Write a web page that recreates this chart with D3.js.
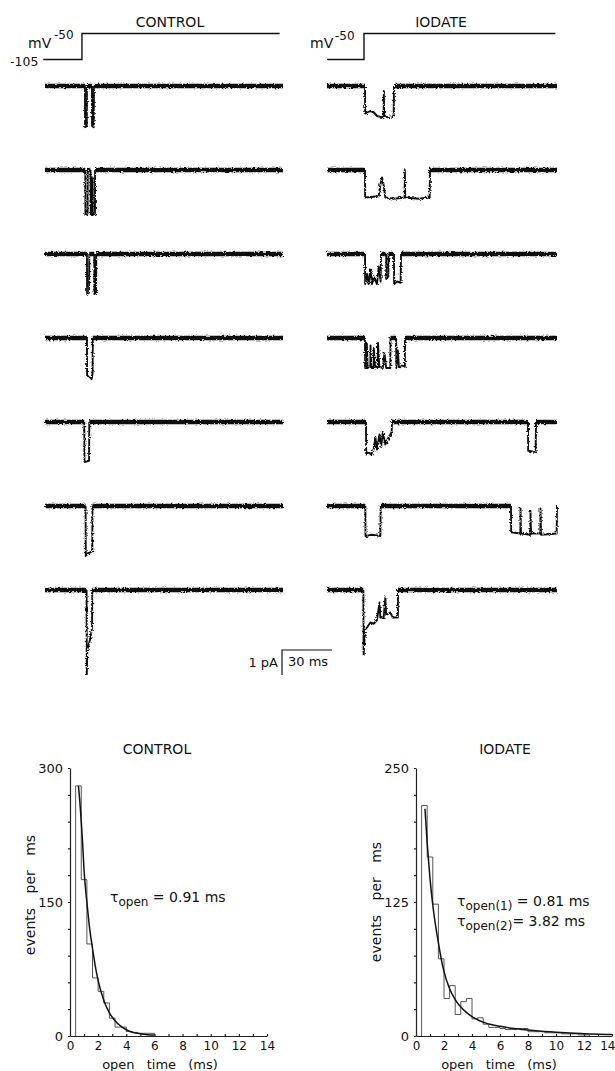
<!DOCTYPE html>
<html><head><meta charset="utf-8">
<script src="https://cdn.jsdelivr.net/npm/d3@7"></script>
<style>
body{margin:0;background:#fff}
svg{display:block}
text{font-family:"DejaVu Sans",sans-serif;fill:#111}
</style>
</head><body>
<svg id="fig" width="615" height="1071"></svg>
<script>
// ---------------- DATA ----------------
const panelTitles = ["CONTROL", "IODATE"];
// voltage protocol (ms, mV)
const protocolControl = [[-1, -105], [22.2, -105], [22.2, -50], [141, -50]];
const protocolIodate  = [[0, -105], [22.2, -105], [22.2, -50], [137, -50]];
const controlDuration = 143;   // ms shown per sweep
const iodateDuration = 138;

// single-channel sweeps: each sweep = list of openings, each opening = [ms, pA] points
const controlSweeps = [
  [[[24.0,0],[24.1,-1.65],[25.1,-1.6],[25.2,0]], [[28.2,0],[28.3,-1.6],[29.3,-1.65],[29.4,0]]],
  [[[24.2,0],[24.3,-1.8],[25.6,-1.75],[25.7,0]], [[27.4,0],[27.5,-1.8],[28.2,-1.8],[28.3,-0.3],[28.6,-0.3],[28.7,-1.8],[30.0,-1.75],[30.1,0]]],
  [[[25.2,0],[25.3,-1.6],[26.5,-1.55],[26.6,0]], [[29.6,0],[29.7,-1.6],[30.7,-1.55],[30.8,0]]],
  [[[25.2,0],[25.3,-1.5],[27.5,-1.6],[28.0,-1.65],[28.6,-1.4],[28.7,0]]],
  [[[23.6,0],[23.7,-1.6],[26.5,-1.55],[26.6,0]]],
  [[[24.4,0],[24.5,-2.0],[25.5,-1.9],[27.5,-1.85],[28.4,-1.8],[28.5,0]]],
  [[[25.0,0],[25.1,-3.4],[25.4,-2.4],[27.0,-2.0],[28.3,-1.5],[28.4,0]]]
];
const iodateSweeps = [
  [[[22.8,0],[22.9,-1.1],[26,-1.0],[28,-1.05],[30,-1.2],[33,-1.25],[34,-1.2],[34.1,-0.2],[34.3,-1.2],[36,-1.25],[40.0,-1.2],[40.2,0]]],
  [[[22.8,0],[22.9,-1.1],[31,-1.05],[32,-0.6],[33,-0.3],[34,-0.6],[35,-1.1],[40,-1.15],[46.6,-1.1],[46.7,0],[46.9,-1.1],[55,-1.15],[61.6,-1.1],[61.8,0]]],
  [[[22.8,0],[22.9,-1.2],[24,-0.8],[25,-1.2],[26,-0.6],[27,-1.2],[28,-0.9],[30,-1.2],[31,-0.5],[32.2,-1.1],[32.4,0]],
   [[35.5,0],[35.6,-1.0],[36.8,-0.9],[36.9,0]],
   [[40.2,0],[40.3,-1.2],[42,-1.1],[44.2,-1.15],[44.4,0]]],
  [[[22.8,0],[22.9,-1.2],[23.8,-1.2],[23.9,-0.2],[24.4,-1.2],[26.0,-1.1],[26.1,-0.3],[26.6,-1.2],[28,-1.2],[28.1,-0.4],[28.8,-1.1],[30.5,-1.2],[30.6,-0.2],[31.4,-1.15],[33.5,-1.2],[34.5,-0.6],[35.5,-1.2],[38,-1.2],[38.1,0]],
   [[41.5,0],[41.6,-1.2],[42.5,-0.5],[43.2,-1.2],[45,-1.1],[46.7,-1.15],[46.8,0]]],
  [[[23.4,0],[23.5,-1.3],[25,-1.2],[26.5,-1.3],[28,-1.1],[29,-0.6],[30,-1.1],[31.5,-0.5],[32.5,-1.0],[33.5,-0.4],[35,-0.9],[37,-0.6],[38.8,-0.4],[39,0]],
   [[120.6,0],[120.7,-1.15],[125.2,-1.2],[125.4,0]]],
  [[[23.0,0],[23.1,-1.2],[27,-1.15],[32,-1.2],[32.2,0]],
   [[110.4,0],[110.5,-1.05],[116,-1.1],[116.1,-0.1],[116.4,-1.1],[122,-1.15],[122.1,-0.2],[122.4,-1.1],[128,-1.1],[128.1,-0.1],[128.4,-1.15],[137.8,-1.1],[138,0]]],
  [[[21.8,0],[22,-2.6],[22.8,-1.6],[24,-1.5],[26,-1.3],[28,-1.35],[30,-1.2],[31.5,-0.5],[32,-1.1],[34,-1.1],[35,-0.3],[35.5,-1.0],[38,-0.9],[39.5,-1.1],[42.5,-1.1],[42.6,0]]]
];
const scaleBarMs = 30, scaleBarPA = 1;

// open-time histograms: bin edges (ms) and events per ms
const binEdges = [0.4,0.8,1.2,1.6,2.0,2.4,2.8,3.2,3.6,4.0,4.4,4.8,5.2,5.6,6.0,6.4,6.8,7.2,7.6,8.0,8.4,8.8,9.2,9.6,10.0,10.4,10.8,11.2,11.6,12.0,12.4];
const controlCounts = [280,175,103,65,50,37,20,10,10,5,4,3,3,3];
const iodateCounts  = [215,167,123,72,35,47,20,32,35,16,17,11,8,8,7,6,6,7,7,4,4,4,3,3,3,2,2,2,1,1];
// fitted curves: [ms, events per ms]
const controlFit = [[0.6,280],[0.7,262],[0.8,240],[0.9,215],[1.0,185],[1.2,150],[1.4,120],[1.6,98],[1.8,78],[2.0,62],[2.4,40],[2.8,26],[3.2,17],[3.6,11],[4.0,7],[4.5,4],[5.0,2.5],[5.5,1.5],[6.0,1]];
const iodateFit = [[0.64,212],[0.8,180],[0.9,163],[1.0,147],[1.2,122],[1.4,103],[1.6,87],[1.8,72],[2.0,60],[2.4,44],[2.8,34],[3.2,27],[3.6,22],[4.0,18],[4.5,14.5],[5,12],[6,9],[7,7],[8,5.6],[9,4.4],[10,3.5],[11,2.7],[12,2.1],[13,1.6],[14,1.3]];
const controlYTicks = [0,150,300];
const iodateYTicks = [0,125,250];
const xTickLabels = [0,2,4,6,8,10,12,14];

// ---------------- DRAW ----------------
const svg = d3.select("#fig");
const defs = svg.append("defs");
const filt = defs.append("filter").attr("id","rough").attr("filterUnits","userSpaceOnUse")
  .attr("x",0).attr("y",0).attr("width",615).attr("height",1071);
filt.append("feTurbulence").attr("type","fractalNoise").attr("baseFrequency","0.45 0.8").attr("numOctaves",2).attr("seed",4).attr("result","n");
filt.append("feDisplacementMap").attr("in","SourceGraphic").attr("in2","n").attr("scale",3.4);

// titles
svg.append("text").attr("x",170).attr("y",27).attr("text-anchor","middle").attr("font-size",14).text(panelTitles[0]);
svg.append("text").attr("x",441).attr("y",27).attr("text-anchor","middle").attr("font-size",14).text(panelTitles[1]);

// protocol
function drawProtocol(data, x0, x1, tmax) {
  const x = d3.scaleLinear().domain([0,tmax]).range([x0,x1]);
  const v = d3.scaleLinear().domain([-105,-50]).range([59.5,33.5]);
  svg.append("path").attr("d", d3.line().x(d=>x(d[0])).y(d=>v(d[1]))(data))
    .attr("fill","none").attr("stroke","#111").attr("stroke-width",1.4);
}
drawProtocol(protocolControl, 45, 283, controlDuration);
drawProtocol(protocolIodate, 327, 557, iodateDuration);
svg.append("text").attr("x",28).attr("y",48).attr("font-size",14).text("mV");
svg.append("text").attr("x",54).attr("y",39).attr("font-size",12).text("-50");
svg.append("text").attr("x",10).attr("y",66).attr("font-size",12.5).text("-105");
svg.append("text").attr("x",310).attr("y",48).attr("font-size",14).text("mV");
svg.append("text").attr("x",335).attr("y",40).attr("font-size",12).text("-50");

// sweeps
const rowStart = 86, rowStep = 84, pxPerPA = 25;
function drawSweeps(sweeps, x0, x1, tmax) {
  const x = d3.scaleLinear().domain([0,tmax]).range([x0,x1]);
  sweeps.forEach((openings, r) => {
    const base = rowStart + r*rowStep;
    const y = d3.scaleLinear().domain([0,-1]).range([base, base+pxPerPA]);
    const g = svg.append("g");
    let t = 0;
    const closed = [];
    openings.forEach(o => { closed.push([t, o[0][0]]); t = o[o.length-1][0]; });
    closed.push([t, tmax]);
    closed.filter(c => c[1] > c[0]).forEach(c => {
      g.append("path").attr("d", d3.line().x(d=>x(d)).y(()=>y(0))(c))
        .attr("stroke","#111").attr("stroke-width",4.4).attr("fill","none").attr("filter","url(#rough)");
    });
    openings.forEach(o => {
      g.append("path").attr("d", d3.line().x(d=>x(d[0])).y(d=>y(d[1]))(o))
        .attr("stroke","#111").attr("stroke-width",1.9).attr("fill","none").attr("stroke-linejoin","round").attr("filter","url(#rough)");
    });
  });
}
drawSweeps(controlSweeps, 45, 283, controlDuration);
drawSweeps(iodateSweeps, 327, 557, iodateDuration);

// scale bar
{
  const xs = d3.scaleLinear().domain([0,scaleBarMs]).range([282,332]);
  const ys = d3.scaleLinear().domain([0,scaleBarPA]).range([650,675]);
  svg.append("path").attr("d", d3.line()([[xs(0),ys(scaleBarPA)],[xs(0),ys(0)],[xs(scaleBarMs),ys(0)]]))
    .attr("fill","none").attr("stroke","#111").attr("stroke-width",1.2);
  svg.append("text").attr("x",278).attr("y",667).attr("text-anchor","end").attr("font-size",13).text(scaleBarPA+" pA");
  svg.append("text").attr("x",288).attr("y",666).attr("font-size",13).text(scaleBarMs+" ms");
}

// histograms
function histogram(o) {
  const x = d3.scaleLinear().domain([0,14]).range([o.x0, o.x1]);
  const y = d3.scaleLinear().domain([0,o.ymax]).range([1036,768]);
  const g = svg.append("g");
  g.append("text").attr("x",o.titleX).attr("y",754).attr("text-anchor","middle").attr("font-size",14).text(o.title);
  const ya = g.append("g").attr("transform",`translate(${o.x0},0)`)
    .call(d3.axisLeft(y).tickValues(d3.range(0,o.ymax+1,o.ymax/10)).tickSize(2).tickSizeOuter(0)
      .tickFormat(d => o.yTicks.includes(d) ? d : ""));
  ya.selectAll("text").attr("font-family","DejaVu Sans").attr("font-size",13).attr("fill","#111").attr("dx",-2);
  ya.selectAll("line,path").attr("stroke","#222").attr("stroke-width",1.2);
  const xa = g.append("g").attr("transform","translate(0,1036)")
    .call(d3.axisBottom(x).tickValues(d3.range(0,15,1)).tickSize(-2).tickSizeOuter(0).tickPadding(5)
      .tickFormat(d => xTickLabels.includes(d) ? d : ""));
  xa.selectAll("text").attr("font-family","DejaVu Sans").attr("font-size",12).attr("fill","#111");
  xa.selectAll("line,path").attr("stroke","#222").attr("stroke-width",1.2);
  if (o.x1 > 600) {
    xa.selectAll(".tick text").filter(d => d === 14).attr("text-anchor","end").attr("dx",3);
  }
  const pts = [[binEdges[0],0]];
  o.counts.forEach((c,i) => { pts.push([binEdges[i],c]); pts.push([binEdges[i+1],c]); });
  pts.push([binEdges[o.counts.length],0]);
  g.append("path").attr("d", d3.line().x(d=>x(d[0])).y(d=>y(d[1]))(pts))
    .attr("fill","none").attr("stroke","#555").attr("stroke-width",1);
  g.append("path").attr("d", d3.line().curve(d3.curveMonotoneX).x(d=>x(d[0])).y(d=>y(d[1]))(o.fit))
    .attr("fill","none").attr("stroke","#111").attr("stroke-width",1.5);
  g.append("text").attr("transform",`translate(${o.ylabX},${o.ylabY}) rotate(-90)`).attr("text-anchor","middle")
    .attr("font-size",14).attr("word-spacing",10).text("events per ms");
  g.append("text").attr("x",o.xlabX).attr("y",1069).attr("text-anchor","middle").attr("font-size",13)
    .attr("word-spacing",8).text("open time (ms)");
  o.tau.forEach((t,i) => {
    const tx = g.append("text").attr("x",o.tauX).attr("y",o.tauY + i*20).attr("font-size",14);
    tx.append("tspan").text("τ");
    tx.append("tspan").attr("font-size",12).attr("dy",4).text(t[0]);
    tx.append("tspan").attr("dy",-4).text(t[1]);
  });
}
histogram({x0:70, x1:267, ymax:300, yTicks:controlYTicks, counts:controlCounts, fit:controlFit,
  title:panelTitles[0], titleX:157, ylabX:35, ylabY:895, xlabX:160,
  tau:[["open"," =  0.91 ms"]], tauX:110, tauY:902});
histogram({x0:416, x1:612, ymax:250, yTicks:iodateYTicks, counts:iodateCounts, fit:iodateFit,
  title:panelTitles[1], titleX:505, ylabX:381, ylabY:902, xlabX:499,
  tau:[["open(1)"," = 0.81 ms"],["open(2)","= 3.82 ms"]], tauX:457, tauY:906});
</script>
</body></html>
